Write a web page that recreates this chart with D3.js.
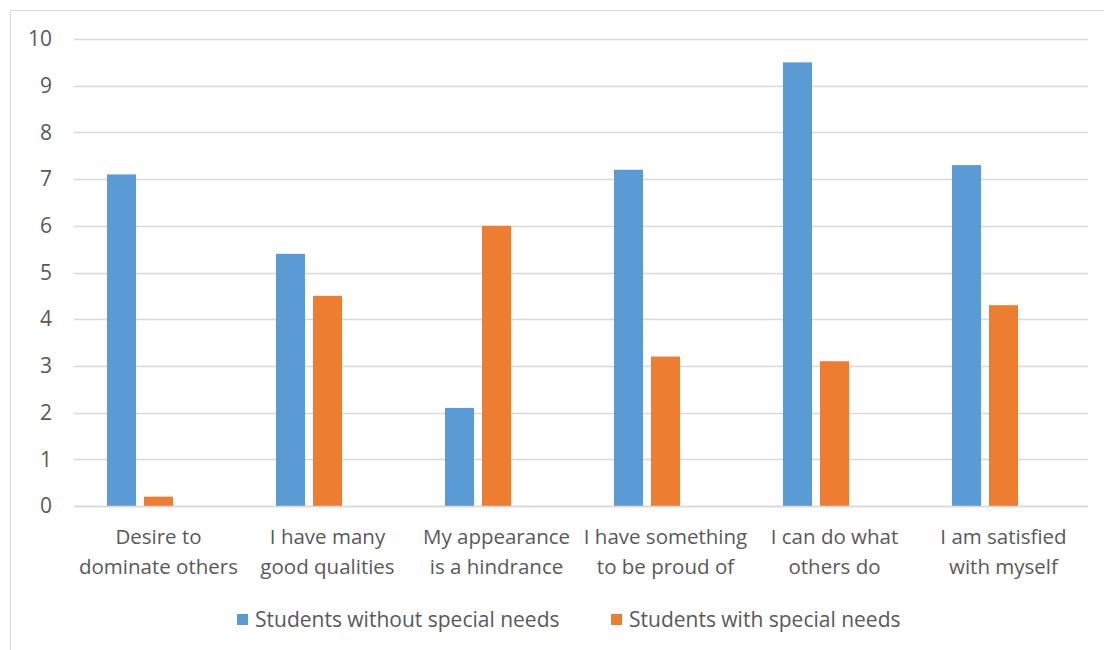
<!DOCTYPE html>
<html>
<head>
<meta charset="utf-8">
<script src="https://cdn.jsdelivr.net/npm/d3@7"></script>
<style>
  html, body { margin: 0; padding: 0; background: #fff; }
  svg { display: block; font-family: "Open Sans", "Liberation Sans", sans-serif; }
</style>
</head>
<body>
<svg id="chart" width="1104" height="650"></svg>
<script>
// Category labels (two lines each)
const categories = [
  ["Desire to", "dominate others"],
  ["I have many", "good qualities"],
  ["My appearance", "is a hindrance"],
  ["I have something", "to be proud of"],
  ["I can do what", "others do"],
  ["I am satisfied", "with myself"]
];
const seriesNames = ["Students without special needs", "Students with special needs"];
const withoutNeeds = [7.1, 5.4, 2.1, 7.2, 9.5, 7.3];
const withNeeds = [0.2, 4.5, 6.0, 3.2, 3.1, 4.3];
const yTicks = [0, 1, 2, 3, 4, 5, 6, 7, 8, 9, 10];
const colors = ["#5B9BD5", "#ED7D31"];

const svg = d3.select("#chart");
const W = 1104, H = 650;
const textColor = "#595959";
const font = "'Open Sans', sans-serif";

// outer chart frame
svg.append("rect")
  .attr("x", 10.5).attr("y", 10.5)
  .attr("width", W + 10).attr("height", H + 10)
  .attr("fill", "none").attr("stroke", "#D9D9D9").attr("stroke-width", 1);

const plot = { left: 74, right: 1088, top: 39, bottom: 506 };

const x = d3.scaleBand()
  .domain(d3.range(categories.length))
  .range([plot.left, plot.right]);

// three slots per group; the third slot is left empty
const slot = d3.scaleBand()
  .domain([0, 1, 2])
  .range([0, x.bandwidth()])
  .paddingInner(0.216)
  .paddingOuter(0.89);

const y = d3.scaleLinear().domain([0, 10]).range([plot.bottom, plot.top]);

// gridlines
svg.append("g")
  .selectAll("line")
  .data(yTicks)
  .join("line")
  .attr("x1", plot.left).attr("x2", plot.right)
  .attr("y1", d => Math.round(y(d)) + 0.5).attr("y2", d => Math.round(y(d)) + 0.5)
  .attr("stroke", "#D9D9D9").attr("stroke-width", 1.3);

// y axis labels
const yAxis = d3.axisLeft(y).tickValues(yTicks).tickSize(0).tickPadding(0);
const yG = svg.append("g").attr("transform", `translate(52,0)`).call(yAxis);
yG.select(".domain").remove();
yG.selectAll("text")
  .attr("fill", textColor)
  .style("font-size", "21px")
  .style("font-family", font);

// bars
const series = [withoutNeeds, withNeeds];
series.forEach((vals, si) => {
  svg.append("g")
    .selectAll("rect")
    .data(vals)
    .join("rect")
    .attr("x", (d, i) => x(i) + slot(si))
    .attr("width", slot.bandwidth())
    .attr("y", d => y(d))
    .attr("height", d => y(0) - y(d))
    .attr("fill", colors[si]);
});

// baseline
svg.append("line")
  .attr("x1", plot.left).attr("x2", plot.right)
  .attr("y1", Math.round(y(0)) + 0.5).attr("y2", Math.round(y(0)) + 0.5)
  .attr("stroke", "#D9D9D9").attr("stroke-width", 1.3);

// category labels
const xG = svg.append("g");
categories.forEach((lines, i) => {
  const cx = x(i) + x.bandwidth() / 2;
  const t = xG.append("text")
    .attr("x", cx)
    .attr("y", 544)
    .attr("text-anchor", "middle")
    .attr("fill", textColor)
    .style("font-size", "20.5px");
  lines.forEach((ln, k) => {
    t.append("tspan")
      .attr("x", cx)
      .attr("dy", k === 0 ? 0 : 30)
      .text(ln);
  });
});

// legend
const legendItems = [
  { name: seriesNames[0], color: colors[0], x: 237 },
  { name: seriesNames[1], color: colors[1], x: 611 }
];
const lg = svg.append("g");
legendItems.forEach(it => {
  lg.append("rect")
    .attr("x", it.x).attr("y", 614)
    .attr("width", 11).attr("height", 11)
    .attr("fill", it.color);
  lg.append("text")
    .attr("x", it.x + 18).attr("y", 627)
    .attr("fill", textColor)
    .style("font-size", "21px")
    .text(it.name);
});
</script>
</body>
</html>
